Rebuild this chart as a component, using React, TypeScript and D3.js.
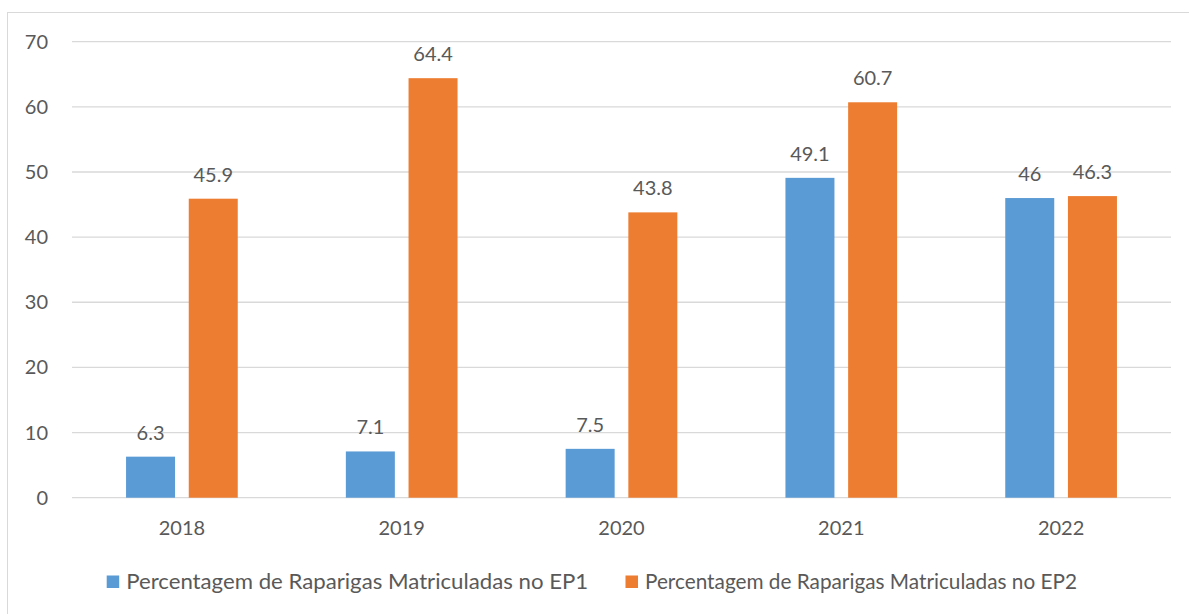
import React from 'react';
import * as d3 from 'd3';

const years = ['2018', '2019', '2020', '2021', '2022'];
const ep1 = [6.3, 7.1, 7.5, 49.1, 46];
const ep2 = [45.9, 64.4, 43.8, 60.7, 46.3];
const seriesNames = [
  'Percentagem de Raparigas Matriculadas no EP1',
  'Percentagem de Raparigas Matriculadas no EP2',
];
const yTicks = [0, 10, 20, 30, 40, 50, 60, 70];

const colors = ['#5B9BD5', '#ED7D31'];
const textColor = '#595959';
const font = 'Lato, "Open Sans", sans-serif';

const App = () => {
  const width = 1189;
  const height = 614;
  const left = 72;
  const right = 1171;
  const top = 41.7;
  const bottom = 497.7;

  const x = d3.scaleBand().domain(years).range([left, right]).paddingInner(0).paddingOuter(0);
  const y = d3.scaleLinear().domain([0, 70]).range([bottom, top]);

  const barW = 49;
  const gap = 13.7;

  const series = [ep1, ep2];

  return (
    <svg width={width} height={height} style={{ position: 'absolute', left: 0, top: 0 }}>
      <rect x={7.5} y={12.5} width={1200} height={700} fill="#fff" stroke="#D9D9D9" strokeWidth={1} />
      {yTicks.map(t => (
        <g key={t}>
          <line x1={left} x2={right} y1={y(t)} y2={y(t)} stroke="#D9D9D9" strokeWidth={1.3} />
          <text x={48} y={y(t)} dy="0.35em" textAnchor="end" fontFamily={font} fontSize={20} fill={textColor}>
            {t}
          </text>
        </g>
      ))}
      {years.map((yr, i) => {
        const c = (x(yr) as number) + x.bandwidth() / 2;
        return (
          <g key={yr}>
            {series.map((s, k) => {
              const bx = k === 0 ? c - gap / 2 - barW : c + gap / 2;
              return (
                <g key={k}>
                  <rect x={bx} y={y(s[i])} width={barW} height={bottom - y(s[i])} fill={colors[k]} />
                  <text
                    x={bx + barW / 2}
                    y={y(s[i]) - 17}
                    textAnchor="middle"
                    fontFamily={font}
                    fontSize={20}
                    fill={textColor}
                  >
                    {s[i]}
                  </text>
                </g>
              );
            })}
            <text x={c} y={528} dy="0.35em" textAnchor="middle" fontFamily={font} fontSize={20} fill={textColor}>
              {yr}
            </text>
          </g>
        );
      })}
      {seriesNames.map((name, k) => {
        const lx = k === 0 ? 106.7 : 625.5;
        return (
          <g key={name}>
            <rect x={lx} y={575.5} width={12.5} height={12.5} fill={colors[k]} />
            <text
              x={lx + 19.5}
              y={582}
              dy="0.35em"
              fontFamily={font}
              fontSize={21}
              fill={textColor}
              textLength={k === 0 ? 462 : 432}
              lengthAdjust="spacingAndGlyphs"
            >
              {name}
            </text>
          </g>
        );
      })}
    </svg>
  );
};

export default App;
